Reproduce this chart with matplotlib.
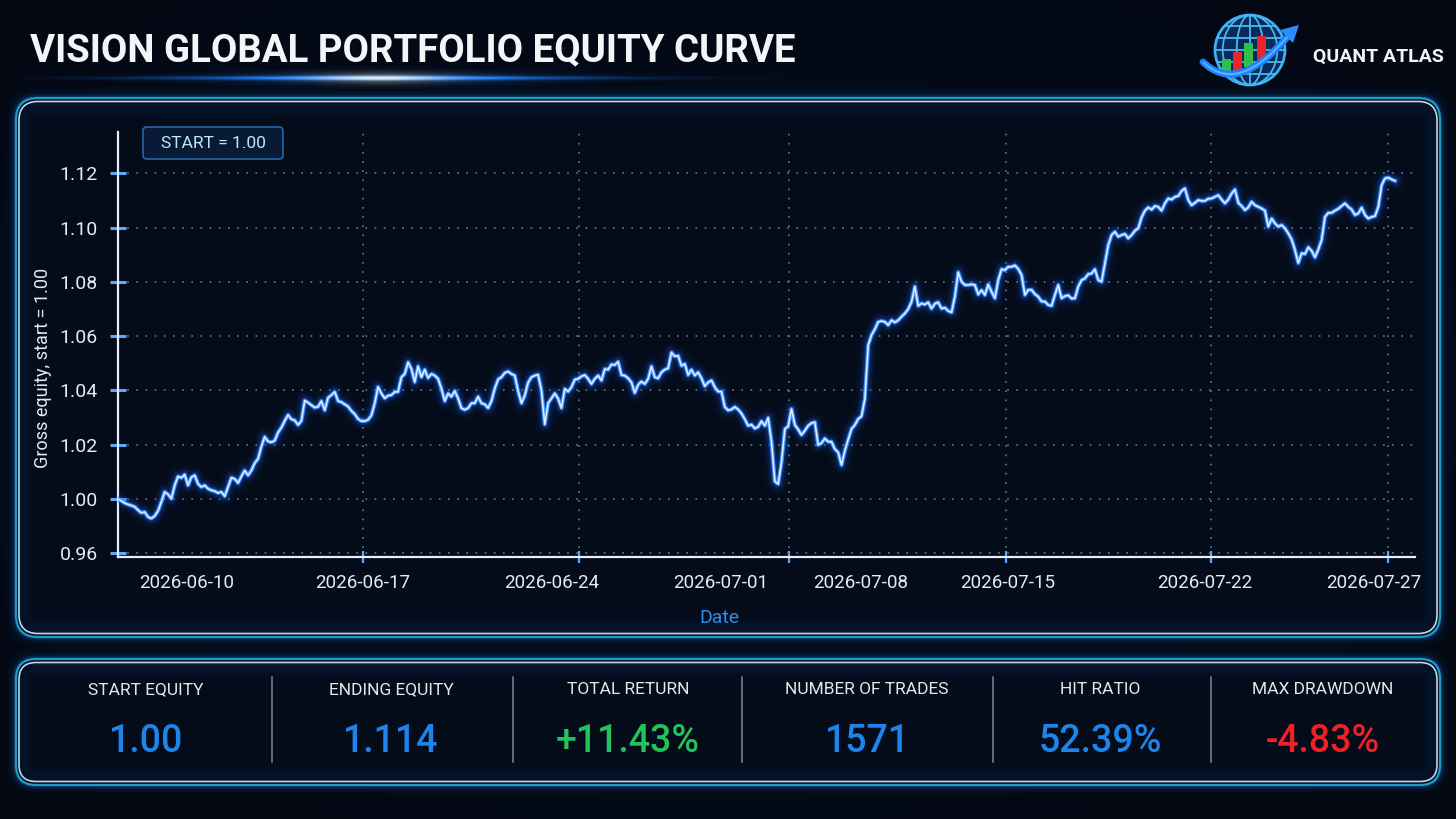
import matplotlib
matplotlib.use('Agg')
import matplotlib.pyplot as plt
import numpy as np
from matplotlib.patches import FancyBboxPatch, Circle, Ellipse, Rectangle, Polygon, PathPatch
from matplotlib.path import Path

plt.rcParams['font.family'] = ['Roboto', 'DejaVu Sans']

# ---------------- data ----------------
title = 'VISION GLOBAL PORTFOLIO EQUITY CURVE'
brand = 'QUANT ATLAS'

# gross equity, one value per bar
equity = [
    1.0000, 0.9993, 0.9985, 0.9980, 0.9976, 0.9971, 0.9959, 0.9949, 0.9952, 0.9934,
    0.9928, 0.9937, 0.9956, 0.9989, 1.0026, 1.0017, 1.0001, 1.0050, 1.0083, 1.0078,
    1.0090, 1.0050, 1.0080, 1.0087, 1.0056, 1.0044, 1.0050, 1.0038, 1.0032, 1.0029,
    1.0022, 1.0026, 1.0010, 1.0044, 1.0078, 1.0074, 1.0059, 1.0083, 1.0105, 1.0087,
    1.0105, 1.0132, 1.0148, 1.0193, 1.0229, 1.0212, 1.0209, 1.0215, 1.0245, 1.0263,
    1.0288, 1.0310, 1.0294, 1.0290, 1.0273, 1.0288, 1.0363, 1.0355, 1.0346, 1.0337,
    1.0340, 1.0361, 1.0327, 1.0373, 1.0383, 1.0395,
    1.0361, 1.0357, 1.0349, 1.0341, 1.0325, 1.0313, 1.0295, 1.0287, 1.0287, 1.0292,
    1.0308, 1.0353, 1.0413, 1.0389, 1.0371, 1.0381, 1.0383, 1.0395, 1.0395, 1.0449,
    1.0461, 1.0504, 1.0480, 1.0431, 1.0489, 1.0449, 1.0477, 1.0446, 1.0461, 1.0455,
    1.0443, 1.0407, 1.0361, 1.0389, 1.0377, 1.0398, 1.0371, 1.0335, 1.0329, 1.0335,
    1.0353, 1.0353, 1.0377, 1.0353, 1.0349, 1.0335, 1.0361, 1.0407, 1.0441, 1.0449,
    1.0465, 1.0470, 1.0461, 1.0455, 1.0398, 1.0353, 1.0381, 1.0429, 1.0449, 1.0455,
    1.0458, 1.0401, 1.0275, 1.0353, 1.0371, 1.0389,
    1.0370, 1.0335, 1.0406, 1.0396, 1.0412, 1.0440, 1.0443, 1.0452, 1.0457, 1.0443,
    1.0424, 1.0443, 1.0455, 1.0437, 1.0479, 1.0477, 1.0496, 1.0494, 1.0506, 1.0457,
    1.0455, 1.0445, 1.0430, 1.0391, 1.0421, 1.0433, 1.0424, 1.0443, 1.0489, 1.0449,
    1.0445, 1.0467, 1.0477, 1.0482, 1.0540, 1.0526, 1.0528, 1.0491, 1.0498, 1.0457,
    1.0477, 1.0455, 1.0467, 1.0445, 1.0416, 1.0430, 1.0437, 1.0412, 1.0396, 1.0396,
    1.0339, 1.0327, 1.0330, 1.0339, 1.0330, 1.0315, 1.0294, 1.0270, 1.0274, 1.0260,
    1.0266, 1.0287, 1.0270, 1.0299, 1.0211, 1.0065,
    1.0055, 1.0135, 1.0258, 1.0268, 1.0332, 1.0273, 1.0256, 1.0236, 1.0252, 1.0270,
    1.0280, 1.0283, 1.0199, 1.0206, 1.0223, 1.0211, 1.0211, 1.0184, 1.0172, 1.0125,
    1.0178, 1.0219, 1.0258, 1.0273, 1.0295, 1.0305, 1.0369, 1.0567, 1.0604, 1.0626,
    1.0653, 1.0656, 1.0653, 1.0641, 1.0659, 1.0651, 1.0659, 1.0672, 1.0684, 1.0700,
    1.0727, 1.0783, 1.0712, 1.0721, 1.0717, 1.0725, 1.0702, 1.0720, 1.0725, 1.0702,
    1.0705, 1.0693, 1.0688, 1.0746, 1.0836, 1.0801, 1.0789, 1.0789, 1.0791, 1.0789,
    1.0754, 1.0770, 1.0752, 1.0791, 1.0764, 1.0740,
    1.0807, 1.0847, 1.0844, 1.0856, 1.0856, 1.0861, 1.0848, 1.0826, 1.0752, 1.0771,
    1.0771, 1.0755, 1.0746, 1.0728, 1.0728, 1.0715, 1.0712, 1.0752, 1.0789, 1.0740,
    1.0748, 1.0751, 1.0739, 1.0740, 1.0783, 1.0807, 1.0813, 1.0829, 1.0831, 1.0847,
    1.0807, 1.0801, 1.0869, 1.0936, 1.0973, 1.0985, 1.0967, 1.0973, 1.0977, 1.0961,
    1.0973, 1.0989, 1.0998, 1.1038, 1.1063, 1.1075, 1.1067, 1.1080, 1.1077, 1.1063,
    1.1090, 1.1108, 1.1104, 1.1114, 1.1117, 1.1136, 1.1145, 1.1102, 1.1083, 1.1092,
    1.1102, 1.1099, 1.1099, 1.1107, 1.1108, 1.1114,
    1.1120, 1.1104, 1.1090, 1.1104, 1.1126, 1.1141, 1.1092, 1.1080, 1.1065, 1.1075,
    1.1096, 1.1083, 1.1077, 1.1071, 1.1063, 1.1004, 1.1034, 1.1016, 1.1004, 1.1010,
    1.0998, 1.0979, 1.0957, 1.0918, 1.0870, 1.0906, 1.0903, 1.0928, 1.0915, 1.0891,
    1.0920, 1.0955, 1.1040, 1.1055, 1.1055, 1.1063, 1.1070, 1.1080, 1.1090, 1.1077,
    1.1067, 1.1047, 1.1053, 1.1074, 1.1047, 1.1034, 1.1040, 1.1043, 1.1077, 1.1157,
    1.1182, 1.1185, 1.1178, 1.1173,
]

# bar index of date labels / weekly grid lines
date_labels = ['2026-06-10', '2026-06-17', '2026-06-24', '2026-07-01',
               '2026-07-08', '2026-07-15', '2026-07-22', '2026-07-27']
date_label_bars = [20.7, 73.5, 130.1, 180.6, 222.6, 266.7, 325.8, 376.5]
grid_bars = [20.7, 73.6, 138.4, 201.3, 266.4, 327.8, 380.8]

ytick_vals = [0.98, 1.00, 1.02, 1.04, 1.06, 1.08, 1.10, 1.12]
ytick_labels = ['0.96', '1.00', '1.02', '1.04', '1.06', '1.08', '1.10', '1.12']

stat_names = ['START EQUITY', 'ENDING EQUITY', 'TOTAL RETURN',
              'NUMBER OF TRADES', 'HIT RATIO', 'MAX DRAWDOWN']
stat_values = ['1.00', '1.114', '+11.43%', '1571', '52.39%', '-4.83%']
stat_colors = ['#1f84ea', '#1f84ea', '#22c35a', '#1f84ea', '#1f84ea', '#ec2228']

# ---------------- figure ----------------
W, H = 1456, 819
fig = plt.figure(figsize=(W / 100, H / 100), dpi=100)
fig.patch.set_facecolor('#03070f')

# background layer in pixel coordinates
bg = fig.add_axes([0, 0, 1, 1])
bg.axis('off')

# soft blue vignette
yy, xx = np.mgrid[0:H:4, 0:W:4]
glow = np.exp(-(((xx - 700) / 900.0) ** 2 + ((yy - 380) / 500.0) ** 2))
rgba = np.zeros(glow.shape + (4,))
rgba[..., 0] = 0.03
rgba[..., 1] = 0.08
rgba[..., 2] = 0.20
rgba[..., 3] = 0.35 * glow
bg.imshow(rgba, extent=[0, W, H, 0], zorder=0, interpolation='bilinear')

# title and its glowing underline
bg.text(30, 51, title, fontsize=27.6, fontweight='bold', color='#f3f5f8',
        ha='left', va='center', zorder=5)
gx = np.linspace(20, 780, 400)
gy = np.linspace(64, 92, 40)
GX, GY = np.meshgrid(gx, gy)
fade = np.exp(-((GX - 380) / 210.0) ** 2)
core = np.exp(-((GX - 380) / 70.0) ** 2)
line_a = fade * np.exp(-((GY - 78) / 1.8) ** 2)
halo_a = np.exp(-((GX - 380) / 150.0) ** 2) * np.exp(-((GY - 78) / 6.0) ** 2)
ul = np.zeros(GX.shape + (4,))
ul[..., 0] = 0.12 + 0.7 * core
ul[..., 1] = 0.50 + 0.42 * core
ul[..., 2] = 1.0
ul[..., 3] = np.clip(line_a + 0.45 * halo_a, 0, 1)
bg.imshow(ul, extent=[20, 780, 92, 64], zorder=2, interpolation='bilinear')
bg.set_xlim(0, W)
bg.set_ylim(H, 0)


def glow_box(x0, y0, x1, y1, r):
    # outer glow
    for lw, a in [(16, 0.03), (10, 0.06), (6, 0.10), (3.5, 0.18)]:
        bg.add_patch(FancyBboxPatch((x0, y0), x1 - x0, y1 - y0,
                                    boxstyle=f'round,pad=0,rounding_size={r}',
                                    facecolor='none', edgecolor='#1c7fe0',
                                    linewidth=lw, alpha=a, zorder=2))
    bg.add_patch(FancyBboxPatch((x0, y0), x1 - x0, y1 - y0,
                                boxstyle=f'round,pad=0,rounding_size={r}',
                                facecolor='#040b19', edgecolor='#1f9cc8',
                                linewidth=1.6, zorder=2))
    bg.add_patch(FancyBboxPatch((x0 + 3, y0 + 3.5), x1 - x0 - 6, y1 - y0 - 7,
                                boxstyle=f'round,pad=0,rounding_size={r - 3}',
                                facecolor='none', edgecolor='#d9ecf8',
                                linewidth=1.2, alpha=0.9, zorder=3))
    # faint inner glow
    for k, a in [(6, 0.06), (10, 0.04), (16, 0.025)]:
        bg.add_patch(FancyBboxPatch((x0 + k, y0 + k), x1 - x0 - 2 * k, y1 - y0 - 2 * k,
                                    boxstyle=f'round,pad=0,rounding_size={max(r - k, 2)}',
                                    facecolor='none', edgecolor='#1a6fd0',
                                    linewidth=8, alpha=a, zorder=2))


glow_box(16, 98, 1440, 637, 22)
glow_box(16, 659, 1440, 785, 20)

# START = 1.00 badge
bg.add_patch(FancyBboxPatch((143, 127), 140, 32, boxstyle='round,pad=0,rounding_size=4',
                            facecolor='#081a36', edgecolor='#2366a8', linewidth=1.2, zorder=4))
bg.text(213, 143.5, 'START = 1.00', fontsize=12.5, color='#bfe9f2',
        ha='center', va='center', zorder=5)

# ---------------- logo ----------------
cx, cy, r = 1250, 50, 35
bg.add_patch(Circle((cx, cy), r, facecolor='#0a2a5c', edgecolor='#3fb0f0',
                    linewidth=2, zorder=4))
for k in [0.38, 0.78]:
    bg.add_patch(Ellipse((cx, cy), 2 * r * k, 2 * r, facecolor='none',
                         edgecolor='#47b8f0', linewidth=1.3, zorder=5))
bg.plot([cx, cx], [cy - r, cy + r], color='#47b8f0', lw=1.3, zorder=5)
for dy in [-24, -12, 0, 12, 24]:
    hw = np.sqrt(r ** 2 - dy ** 2)
    bg.plot([cx - hw, cx + hw], [cy + dy, cy + dy], color='#47b8f0', lw=1.3, zorder=5)
for bx, top, bot, col in [(1222, 59, 73, '#2ec04a'), (1233, 52, 71, '#e8262a'),
                          (1244, 43, 67, '#2ec04a'), (1257, 36, 60, '#e8262a')]:
    bg.add_patch(Rectangle((bx, top), 9, bot - top, facecolor=col,
                           edgecolor='none', zorder=6))
sw = Path([(1203, 62), (1238, 96), (1289, 35)], [Path.MOVETO, Path.CURVE3, Path.CURVE3])
bg.add_patch(PathPatch(sw, facecolor='none', edgecolor='#1e7fff', linewidth=5, zorder=7,
                       capstyle='round'))
bg.add_patch(PathPatch(sw, facecolor='none', edgecolor='#59b4ff', linewidth=1.5, zorder=7))
bg.add_patch(Polygon([(1299, 25), (1280, 30), (1293, 43)], closed=True,
                     facecolor='#2a8cff', edgecolor='none', zorder=7))
bg.text(1378, 56.5, brand, fontsize=14, fontweight='bold', color='#f2f5f8',
        ha='center', va='center', zorder=5)

# ---------------- stats strip ----------------
col_x = [146, 391, 628, 867, 1100, 1323]
for i, (name, val, col) in enumerate(zip(stat_names, stat_values, stat_colors)):
    bg.text(col_x[i], 690, name, fontsize=12.5, color='#e3e8ef',
            ha='center', va='center', zorder=5)
    bg.text(col_x[i], 741, val, fontsize=27, fontweight='medium', color=col,
            ha='center', va='center', zorder=5)
for dx in [272, 513, 742, 993, 1211]:
    bg.plot([dx, dx], [677, 762], color='#7d8798', lw=1.1, zorder=5)

# ---------------- equity chart ----------------
ax = fig.add_axes([118 / W, (H - 557) / H, 1297 / W, 425 / H])
ax.patch.set_alpha(0)
bars = np.arange(len(equity))
eq = np.array(equity)

for lw, a in [(14, 0.05), (9, 0.10), (5.5, 0.20)]:
    ax.plot(bars, eq, color='#1f6bff', lw=lw, alpha=a, solid_joinstyle='round', zorder=3)
ax.plot(bars, eq, color='#3f90ff', lw=2.8, zorder=4, solid_joinstyle='round')
ax.plot(bars, eq, color='#e2f0ff', lw=1.1, zorder=5, solid_joinstyle='round')

ax.set_xlim(0, 389)
ax.set_ylim(0.9786, 1.1353)

ax.set_yticks(ytick_vals)
ax.set_yticklabels(ytick_labels)
ax.set_xticks(date_label_bars)
ax.set_xticklabels(date_labels)
ax.set_xticks(grid_bars, minor=True)

ax.tick_params(axis='y', which='major', direction='inout', length=11, width=2.2,
               color='#5aa8ff', labelcolor='#e6ebf2', labelsize=14, pad=9)
ax.tick_params(axis='x', which='major', length=0, labelcolor='#e6ebf2',
               labelsize=13.5, pad=12)
ax.tick_params(axis='x', which='minor', direction='inout', length=8, width=1.6,
               color='#5aa8ff')
ax.grid(axis='y', which='major', color='#6d7689', linestyle=(0, (1, 4.5)), lw=1.2)
ax.grid(axis='x', which='minor', color='#6d7689', linestyle=(0, (1, 4.5)), lw=1.2)
ax.grid(axis='x', which='major', visible=False)

for s in ['top', 'right']:
    ax.spines[s].set_visible(False)
for s in ['left', 'bottom']:
    ax.spines[s].set_color('#e8eef6')
    ax.spines[s].set_linewidth(1.6)

ax.set_ylabel('Gross equity, start = 1.00', fontsize=13, color='#e6ebf2')
ax.yaxis.set_label_coords(-0.0509, 0.445)
ax.set_xlabel('Date', fontsize=14, color='#2a8fe6')
ax.xaxis.set_label_coords(0.464, -0.122)

fig.savefig('out.png', dpi=100, facecolor=fig.get_facecolor())
